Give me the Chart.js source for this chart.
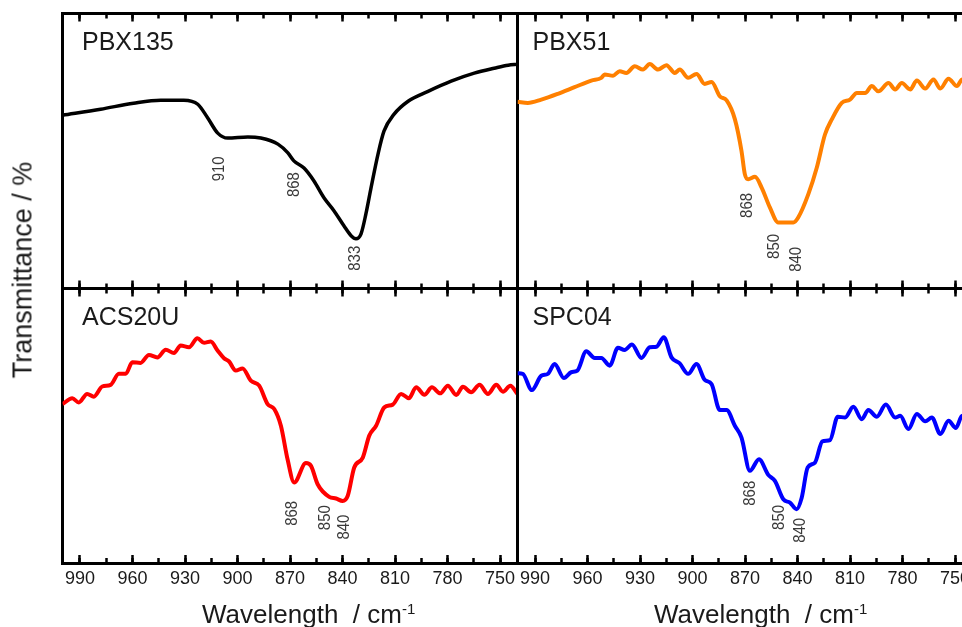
<!DOCTYPE html>
<html>
<head>
<meta charset="utf-8">
<script src="https://cdn.jsdelivr.net/npm/chart.js@4.4.1/dist/chart.umd.min.js"></script>
<style>
  body { margin: 0; background: #fff; }
  #fig { position: relative; width: 962px; height: 627px; overflow: hidden; background: #fff; }
  #fig canvas { position: absolute; left: 0; top: 0; }
  .lbl { position: absolute; font-family: "Liberation Sans", Arial, sans-serif; color: #1a1a1a; line-height: 1; white-space: nowrap; }
  .xt { font-size: 26px; top: 601px; }
  .xt sup { font-size: 15px; vertical-align: 9px; line-height: 0; }
  #ytitle { font-size: 27px; left: 23px; top: 270px; transform: translate(-50%, -50%) rotate(-90deg); }
</style>
</head>
<body>
<div id="fig">
  <canvas id="pbx135" width="1000" height="627"></canvas>
  <canvas id="pbx51" width="1000" height="627"></canvas>
  <canvas id="acs20u" width="1000" height="627"></canvas>
  <canvas id="spc04" width="1000" height="627"></canvas>
  <div class="lbl" id="ytitle">Transmittance / %</div>
  <div class="lbl xt" style="left:202px">Wavelength&nbsp; / cm<sup>-1</sup></div>
  <div class="lbl xt" style="left:654px">Wavelength&nbsp; / cm<sup>-1</sup></div>
</div>
<script>
// wavenumber (cm-1) and transmittance (relative, % of panel)
const pbx135X = [1000, 978.2, 959.4, 943.9, 930.7, 922.7, 917.0, 911.3, 905.6, 894.1, 886.7, 876.9, 871.2, 867.8, 862.0, 856.3, 850.6, 844.9, 839.2, 835.1, 832.3, 829.4, 826.6, 823.7, 819.7, 816.3, 810.5, 802.5, 791.1, 777.9, 764.7, 753.3, 745.3, 740];
const pbx135Y = [63.0, 65.2, 67.4, 68.5, 68.5, 67.0, 62.0, 56.5, 54.7, 55.1, 54.7, 52.5, 49.3, 46.4, 43.8, 39.1, 33.0, 28.3, 22.8, 19.2, 18.1, 19.9, 27.2, 36.6, 48.9, 57.2, 63.4, 68.1, 71.7, 75.4, 78.3, 80.1, 81.2, 81.5];

const pbx51X = [1000, 994.1, 986.4, 976.9, 967.4, 957.8, 952.1, 950.2, 945.4, 941.6, 937.8, 933.0, 928.3, 924.4, 919.7, 914.9, 910.1, 907.3, 902.5, 897.7, 893.0, 889.1, 884.4, 880.5, 875.8, 872.0, 870.1, 868.2, 864.3, 860.5, 855.8, 851.0, 842.4, 839.6, 833.8, 829.0, 824.3, 820.4, 814.7, 810.0, 806.1, 801.4, 797.5, 793.8, 788.0, 784.2, 780.4, 775.6, 771.8, 767.0, 762.3, 758.4, 753.7, 748.9, 745.9, 740];
const pbx51Y = [67.9, 67.5, 68.7, 70.8, 73.2, 75.6, 76.6, 77.8, 77.4, 79.0, 78.4, 80.8, 79.6, 81.6, 79.6, 81.2, 78.4, 79.6, 76.6, 78.0, 74.4, 75.1, 69.9, 68.4, 61.6, 50.0, 41.6, 39.7, 40.6, 36.7, 29.5, 24.0, 24.0, 25.8, 34.3, 43.9, 56.0, 61.5, 67.5, 68.7, 71.1, 71.1, 73.6, 71.7, 74.7, 72.4, 74.7, 72.4, 75.6, 72.7, 76.0, 72.7, 76.3, 73.6, 76.0, 74.0];

const acs20uX = [1000, 994.4, 990.7, 985.9, 982.1, 977.3, 972.5, 967.8, 963.9, 960.1, 955.4, 950.6, 945.8, 941.0, 936.3, 932.5, 927.7, 922.9, 919.1, 915.3, 911.4, 907.7, 904.8, 901.0, 897.1, 892.4, 887.6, 882.8, 879.0, 875.2, 871.4, 867.6, 860.9, 858.0, 854.2, 847.6, 843.7, 839.9, 837.0, 833.3, 828.4, 824.7, 820.8, 816.1, 811.3, 806.5, 802.1, 797.9, 793.2, 788.9, 784.2, 779.8, 775.0, 771.2, 766.5, 761.7, 756.9, 752.1, 748.3, 744.1, 740];
const acs20uY = [57.9, 60.0, 58.5, 61.6, 60.6, 64.3, 64.9, 68.9, 68.9, 73.1, 72.9, 75.8, 74.9, 77.7, 76.5, 79.2, 78.6, 81.9, 80.2, 80.7, 77.4, 74.6, 73.4, 70.1, 70.9, 66.4, 64.6, 57.9, 56.1, 50.0, 37.8, 29.3, 36.4, 35.4, 28.7, 24.1, 23.5, 22.6, 24.5, 34.8, 38.4, 46.4, 50.0, 56.7, 57.7, 61.6, 60.0, 64.0, 61.3, 64.0, 61.8, 64.6, 61.2, 64.2, 62.2, 64.9, 61.6, 64.9, 62.4, 64.6, 61.6];

const spc04X = [1000, 997.0, 991.8, 986.4, 982.7, 978.8, 973.5, 969.3, 965.8, 960.7, 955.9, 952.1, 947.3, 942.6, 938.8, 934.6, 929.2, 924.4, 920.6, 916.4, 912.0, 907.3, 902.5, 897.7, 893.0, 889.1, 884.4, 880.5, 875.8, 872.0, 867.2, 862.0, 856.7, 852.9, 848.1, 844.3, 840.5, 837.6, 834.2, 830.0, 825.8, 821.4, 817.0, 812.8, 808.1, 803.3, 799.5, 794.7, 789.5, 784.2, 781.3, 776.6, 771.8, 767.0, 763.2, 758.4, 753.7, 749.5, 745.9, 740];
const spc04Y = [69.1, 68.9, 63.0, 68.2, 68.9, 72.5, 67.4, 69.5, 70.1, 77.1, 74.7, 74.7, 71.9, 78.4, 77.6, 79.6, 74.7, 78.6, 78.8, 82.2, 74.9, 72.7, 68.9, 72.5, 66.7, 65.2, 55.7, 55.7, 50.0, 45.7, 33.6, 37.8, 32.1, 29.9, 23.2, 22.0, 19.6, 23.8, 34.8, 36.6, 44.3, 44.8, 53.3, 53.0, 56.9, 52.4, 55.7, 53.3, 57.7, 53.0, 53.6, 48.8, 54.3, 51.6, 53.0, 47.0, 51.8, 49.2, 53.6, 51.5];

// peak annotations: text, and where the text sits (wavenumber, transmittance)
const pbx135Peaks = ['910', '868', '833'];
const pbx135PeakX = [910.6, 867.4, 832.9];
const pbx135PeakY = [43.5, 37.8, 11.0];
const pbx51Peaks = ['868', '850', '840'];
const pbx51PeakX = [868.9, 853.1, 840.7];
const pbx51PeakY = [30.2, 15.3, 10.6];
const acs20uPeaks = ['868', '850', '840'];
const acs20uPeakX = [868.5, 849.8, 838.9];
const acs20uPeakY = [18.1, 16.5, 13.1];
const spc04Peaks = ['868', '850', '840'];
const spc04PeakX = [867.0, 850.2, 838.6];
const spc04PeakY = [25.4, 16.6, 11.9];

const FONT = '"Liberation Sans", Arial, sans-serif';

// sample name + rotated peak numbers
const panelText = {
    id: 'panelText',
    afterDatasetsDraw(chart, args, o) {
        const { ctx, chartArea, scales } = chart;
        ctx.save();
        ctx.fillStyle = '#1a1a1a';
        ctx.font = '25px ' + FONT;
        ctx.textAlign = 'left';
        ctx.textBaseline = 'alphabetic';
        ctx.fillText(o.name, chartArea.left + o.nameDx, chartArea.top + 36.5);

        ctx.fillStyle = '#3a3a3a';
        ctx.font = '17px ' + FONT;
        ctx.textAlign = 'center';
        ctx.textBaseline = 'middle';
        o.peaks.forEach((t, i) => {
            ctx.save();
            ctx.translate(scales.x.getPixelForValue(o.peakX[i]), scales.y.getPixelForValue(o.peakY[i]));
            ctx.rotate(-Math.PI / 2);
            ctx.scale(0.88, 1);
            ctx.fillText(t, 0, 0);
            ctx.restore();
        });
        ctx.restore();
    }
};

// labels get clipped to the scale box, so the labelled axis keeps some height
function xAxis(position, step, len, showLabels, weight) {
    return {
        type: 'linear',
        position: position,
        weight: weight,
        min: 740,
        max: 1000,
        reverse: true,
        border: { display: step === 30, color: '#000', width: 3 },
        grid: { drawOnChartArea: false, drawTicks: true, tickLength: len, tickWidth: 2.5, tickColor: '#000', color: '#000' },
        ticks: {
            display: showLabels, stepSize: step, includeBounds: false, autoSkip: false,
            maxRotation: 0, padding: 13, color: '#1a1a1a', font: { family: FONT, size: 18 }
        },
        afterFit: s => { s.height = showLabels ? 35 : 0; s.paddingLeft = 0; s.paddingRight = 0; }
    };
}

function yAxis(position) {
    return {
        type: 'linear',
        position: position,
        min: 0,
        max: 100,
        border: { color: '#000', width: 3 },
        grid: { display: false },
        ticks: { display: false },
        afterFit: s => { s.width = 0; }
    };
}

function makePanel(id, xs, ys, color, lw, name, nameDx, peaks, peakX, peakY, padding, labels) {
    new Chart(document.getElementById(id), {
        type: 'line',
        data: {
            datasets: [{
                label: name,
                data: xs.map((x, i) => ({ x: x, y: ys[i] })),
                borderColor: color,
                borderWidth: lw,
                pointRadius: 0,
                cubicInterpolationMode: 'monotone',
                fill: false
            }]
        },
        options: {
            responsive: false,
            animation: false,
            layout: { padding: padding },
            scales: {
                x: xAxis('bottom', 30, -8, labels, 1),
                xMinor: xAxis('bottom', 15, -5, false, 0),
                xTop: xAxis('top', 30, -8, false, 1),
                xTopMinor: xAxis('top', 15, -5, false, 0),
                y: yAxis('left'),
                yRight: yAxis('right')
            },
            plugins: {
                legend: { display: false },
                tooltip: { enabled: false },
                panelText: { name: name, nameDx: nameDx, peaks: peaks, peakX: peakX, peakY: peakY }
            }
        },
        plugins: [panelText]
    });
}

makePanel('pbx135', pbx135X, pbx135Y, '#000000', 3.5, 'PBX135', 19.5, pbx135Peaks, pbx135PeakX, pbx135PeakY,
    { left: 62.5, top: 13.5, right: 482.5, bottom: 338.5 }, false);
makePanel('pbx51', pbx51X, pbx51Y, '#ff8000', 4, 'PBX51', 15, pbx51Peaks, pbx51PeakX, pbx51PeakY,
    { left: 517.5, top: 13.5, right: 27.5, bottom: 338.5 }, false);
makePanel('acs20u', acs20uX, acs20uY, '#ff0000', 4, 'ACS20U', 19.5, acs20uPeaks, acs20uPeakX, acs20uPeakY,
    { left: 62.5, top: 288.5, right: 482.5, bottom: 29 }, true);
makePanel('spc04', spc04X, spc04Y, '#0000ff', 4, 'SPC04', 15, spc04Peaks, spc04PeakX, spc04PeakY,
    { left: 517.5, top: 288.5, right: 27.5, bottom: 29 }, true);
</script>
</body>
</html>
